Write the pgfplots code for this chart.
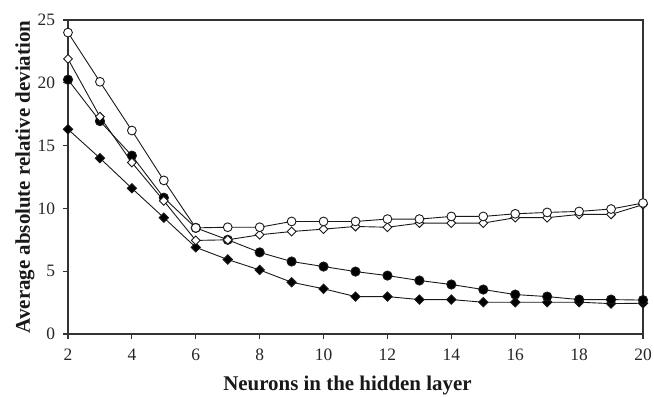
\documentclass[border=0pt]{standalone}
\usepackage{pgfplots}
\pgfplotsset{compat=1.18}
\usepackage{fontspec}
\setmainfont{Liberation Serif}
\begin{document}
\begin{tikzpicture}
\begin{axis}[
  scale only axis,
  width=575bp, height=314bp,
  xmin=2, xmax=20, ymin=0, ymax=25,
  xtick={2,4,...,20}, ytick={0,5,...,25},
  tick align=outside, xtick pos=left, ytick pos=left,
  major tick length=5bp,
  axis line style={line width=1.3bp, black!80},
  tick style={line width=1.1bp, black!80},
  /pgf/number format/assume math mode=true,
  ticklabel style={font=\fontsize{17.5}{20}\selectfont, text=black!85},
  xticklabel style={yshift=-6.5bp},
  yticklabel style={xshift=-4.5bp},
  xlabel={\textbf{Neurons in the hidden layer}},
  ylabel={\textbf{Average absolute relative deviation}},
  label style={font=\fontsize{21}{24}\selectfont, text=black!90},
  xlabel style={at={(axis description cs:0.486,-0.180)}, anchor=base},
  ylabel style={at={(axis description cs:-0.0661,0.5)}, anchor=base},
  every axis plot/.append style={line width=0.9bp, black!90},
]
\addplot[mark=square*, mark size=3.3bp, mark options={fill=black, rotate=45}] coordinates {
(2,16.3)(3,14.0)(4,11.6)(5,9.26)(6,6.9)(7,5.93)(8,5.1)(9,4.12)(10,3.6)(11,2.98)(12,2.98)(13,2.74)(14,2.74)(15,2.53)(16,2.53)(17,2.53)(18,2.53)(19,2.42)(20,2.45)};
\addplot[mark=*, mark size=4.6bp, mark options={fill=black}] coordinates {
(2,20.25)(3,16.95)(4,14.2)(5,10.85)(6,8.45)(7,7.5)(8,6.5)(9,5.77)(10,5.37)(11,4.97)(12,4.65)(13,4.26)(14,3.94)(15,3.54)(16,3.14)(17,2.98)(18,2.74)(19,2.74)(20,2.7)};
\addplot[mark=square*, mark size=3.1bp, mark options={fill=white, rotate=45}] coordinates {
(2,21.9)(3,17.3)(4,13.65)(5,10.6)(6,7.45)(7,7.5)(8,7.9)(9,8.16)(10,8.35)(11,8.56)(12,8.5)(13,8.83)(14,8.83)(15,8.83)(16,9.26)(17,9.26)(18,9.52)(19,9.52)(20,10.3)};
\addplot[mark=*, mark size=4.4bp, mark options={fill=white}] coordinates {
(2,24.0)(3,20.08)(4,16.2)(5,12.23)(6,8.45)(7,8.5)(8,8.5)(9,8.96)(10,8.96)(11,8.96)(12,9.15)(13,9.15)(14,9.36)(15,9.36)(16,9.57)(17,9.68)(18,9.76)(19,9.95)(20,10.43)};
\end{axis}
\pgfresetboundingbox
\useasboundingbox (-68bp,-63bp) rectangle (586bp,334bp);
\end{tikzpicture}
\end{document}
